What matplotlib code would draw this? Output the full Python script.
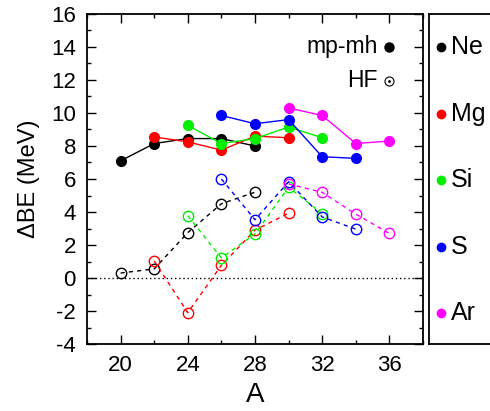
import numpy as np
import matplotlib.pyplot as plt
from matplotlib.ticker import MultipleLocator

plt.rcParams['font.family'] = ['Liberation Sans', 'DejaVu Sans']
plt.rcParams['axes.unicode_minus'] = False

# Binding energy differences per element (MeV)
A_ne = [20, 22, 24, 26, 28]
mpmh_ne = [7.1, 8.15, 8.45, 8.45, 8.0]
hf_ne = [0.3, 0.55, 2.75, 4.5, 5.2]

A_mg = [22, 24, 26, 28, 30]
mpmh_mg = [8.55, 8.25, 7.75, 8.6, 8.5]
hf_mg = [1.03, -2.1, 0.77, 2.9, 3.93]

A_si = [24, 26, 28, 30, 32]
mpmh_si = [9.25, 8.15, 8.45, 9.15, 8.5]
hf_si = [3.77, 1.22, 2.67, 5.5, 3.9]

A_s = [26, 28, 30, 32, 34]
mpmh_s = [9.85, 9.35, 9.6, 7.35, 7.25]
hf_s = [6.0, 3.53, 5.83, 3.7, 2.96]

A_ar = [30, 32, 34, 36]
mpmh_ar = [10.3, 9.85, 8.15, 8.3]
hf_ar = [5.7, 5.19, 3.87, 2.7]

names = ['Ne', 'Mg', 'Si', 'S', 'Ar']
colors = ['#000000', '#ff0000', '#00ee00', '#0000ff', '#ff00ff']
series = [(A_ne, mpmh_ne, hf_ne), (A_mg, mpmh_mg, hf_mg), (A_si, mpmh_si, hf_si),
          (A_s, mpmh_s, hf_s), (A_ar, mpmh_ar, hf_ar)]

W, H = 490, 411
fig = plt.figure(figsize=(W / 100, H / 100), dpi=100)
ax = fig.add_axes([87 / W, (H - 344) / H, (423 - 87) / W, (344 - 14) / H])

ax.axhline(0, color='black', lw=1, ls=(0, (1, 2)))

for (A, mm, hf), c in zip(series, colors):
    ax.plot(A, mm, '-', color=c, lw=1, marker='o', ms=7, mfc=c, mec=c, zorder=3)
    ax.plot(A, hf, color=c, lw=1, ls=(0, (3, 3)), marker='o', ms=7.5,
            mfc='none', mec=c, mew=1, zorder=3)

ax.set_xlim(18, 38)
ax.set_ylim(-4, 16)
ax.xaxis.set_major_locator(MultipleLocator(4))
ax.xaxis.set_minor_locator(MultipleLocator(2))
ax.yaxis.set_major_locator(MultipleLocator(2))
ax.yaxis.set_minor_locator(MultipleLocator(1))
ax.set_xticks([20, 24, 28, 32, 36])
ax.tick_params(which='both', direction='in', top=True, right=True, width=1)
ax.tick_params(which='major', length=6.5, labelsize=16, pad=8)
ax.tick_params(which='minor', length=3)
for s in ax.spines.values():
    s.set_linewidth(1.3)

ax.set_xlabel('A', fontsize=20, labelpad=4)
ax.set_ylabel('ΔBE (MeV)', fontsize=17, labelpad=8)

# in-plot legend for line type
ax.text(0.865, 0.9, 'mp-mh', transform=ax.transAxes, ha='right', va='center', fontsize=16.5)
ax.plot([0.9], [0.9], 'o', color='black', ms=6.5, transform=ax.transAxes)
ax.text(0.865, 0.797, 'HF', transform=ax.transAxes, ha='right', va='center', fontsize=16.5)
ax.plot([0.9], [0.797], 'o', mfc='none', mec='black', ms=6.5, mew=0.8, transform=ax.transAxes)
ax.plot([0.9], [0.797], 'o', color='black', ms=1, transform=ax.transAxes)

# element legend panel
lg = fig.add_axes([429 / W, (H - 344) / H, 80 / W, (344 - 14) / H])
lg.set_xlim(0, 80)
lg.set_ylim(344, 14)
lg.set_xticks([])
lg.set_yticks([])
for s in lg.spines.values():
    s.set_linewidth(1.3)
label_y = [47, 114, 180, 247, 313]
for name, c, yy in zip(names, colors, label_y):
    lg.plot([12], [yy], 'o', color=c, ms=6)
    lg.text(22, yy, name, ha='left', va='center', fontsize=18)

fig.savefig('out.png', dpi=100)
